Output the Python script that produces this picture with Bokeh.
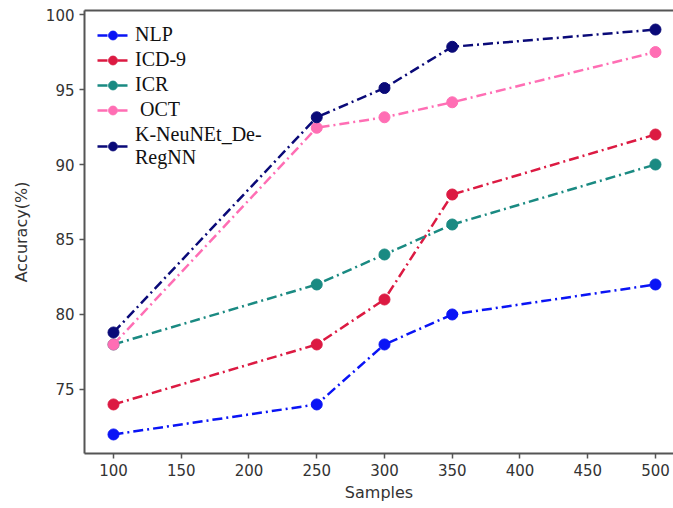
from bokeh.plotting import figure
from bokeh.models import Legend, LegendItem, Range1d, FixedTicker, LinearAxis
from bokeh.embed import file_html
from bokeh.resources import INLINE

samples = [100, 250, 300, 350, 500]
nlp = [72, 74, 78, 80, 82]
icd9 = [74, 78, 81, 88, 92]
icr = [78, 82, 84, 86, 90]
oct_ = [78, 92.45, 93.15, 94.15, 97.5]
kneu = [78.8, 93.15, 95.1, 97.85, 99]
x_ticks = [100, 150, 200, 250, 300, 350, 400, 450, 500]
y_ticks = [75, 80, 85, 90, 95, 100]

names = ["NLP", "ICD-9", "ICR", " OCT", "K-NeuNEt_De-\nRegNN"]
colors = ["#0a14f5", "#dc1a42", "#1a8a82", "#ff6eb4", "#0a0a78"]
series = [nlp, icd9, icr, oct_, kneu]

p = figure(width=673, height=506, output_backend="svg", toolbar_location=None,
           x_range=Range1d(78.6, 513.3), y_range=Range1d(70.73, 100.27),
           min_border_left=84, min_border_right=0, min_border_top=10, min_border_bottom=53)

p.xgrid.visible = False
p.ygrid.visible = False
p.outline_line_color = None

top_axis = LinearAxis(ticker=FixedTicker(ticks=[]), axis_line_color="#555555",
                      axis_line_width=2, major_tick_line_color=None,
                      minor_tick_line_color=None)
p.add_layout(top_axis, "above")

items = []
for name, col, ys in zip(names, colors, series):
    r1 = p.line(samples, ys, line_color=col, line_width=2.5, line_dash="10 4 2 4")
    r2 = p.scatter(samples, ys, size=11, fill_color=col, line_color=col)
    items.append(LegendItem(label=name, renderers=[r1, r2]))

legend = Legend(items=items, location="top_left", border_line_alpha=0,
                background_fill_alpha=0, label_text_font="Liberation Serif",
                label_text_font_size="20px", label_text_color="#111111",
                glyph_width=31, glyph_height=22,
                spacing=2, padding=5, margin=8, label_standoff=7)
p.add_layout(legend)

xax = p.below[0]
yax = p.left[0]
xax.ticker = FixedTicker(ticks=x_ticks)
yax.ticker = FixedTicker(ticks=y_ticks)
for ax in (xax, yax):
    ax.axis_line_color = "#555555"
    ax.axis_line_width = 2
    ax.major_tick_line_color = "#555555"
    ax.major_tick_line_width = 1.5
    ax.major_tick_out = 5
    ax.major_tick_in = 0
    ax.minor_tick_line_color = None
    ax.major_label_text_font = "DejaVu Sans"
    ax.major_label_text_font_size = "15px"
    ax.major_label_text_color = "#333333"
    ax.axis_label_text_font = "DejaVu Sans"
    ax.axis_label_text_font_size = "16px"
    ax.axis_label_text_font_style = "normal"
    ax.axis_label_text_color = "#333333"
xax.axis_label = "Samples"
yax.axis_label = "Accuracy(%)"
xax.axis_label_standoff = 4
yax.axis_label_standoff = 12

open("out.html", "w").write(file_html(p, INLINE))
